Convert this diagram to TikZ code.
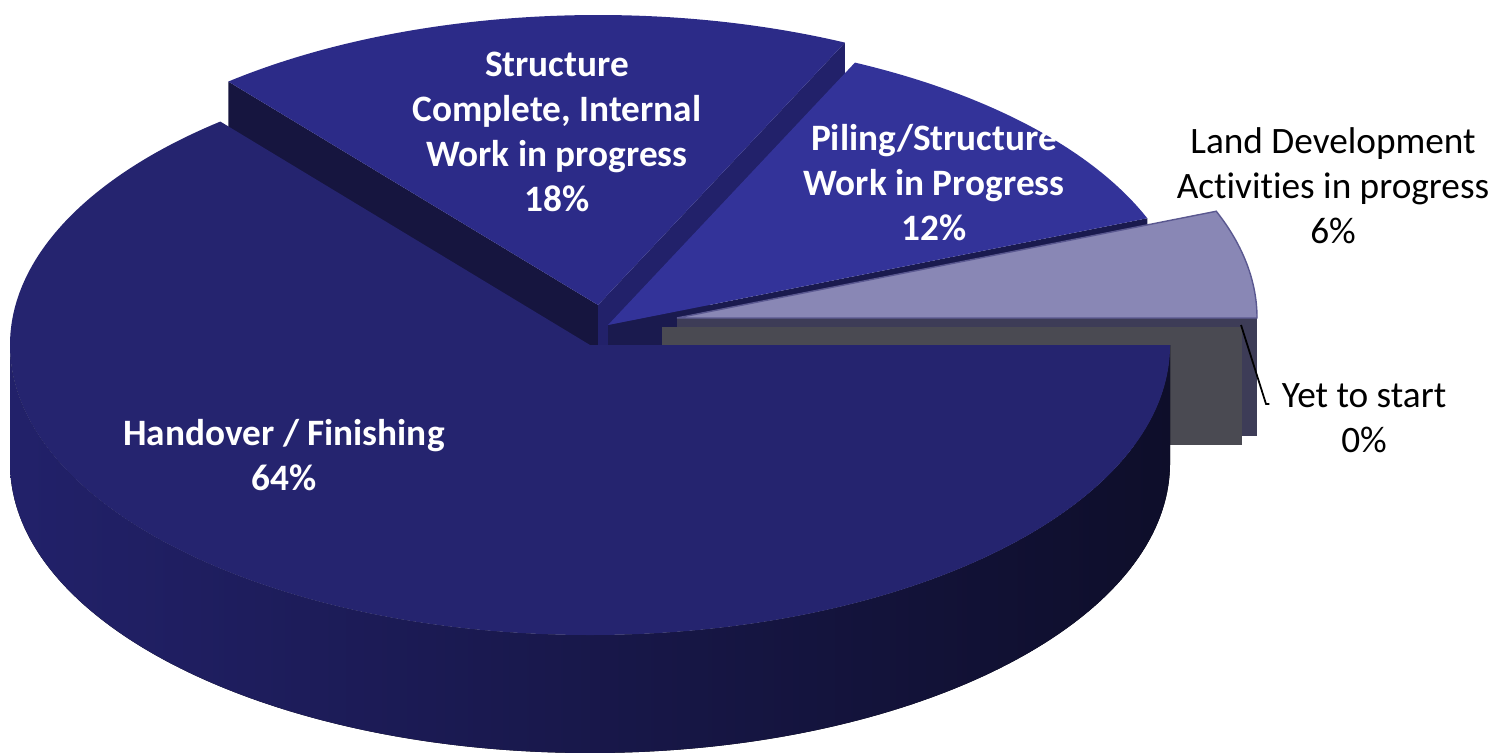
\documentclass[tikz,border=0pt]{standalone}
\usepackage{fontspec}
\setmainfont{Carlito}[Ligatures=NoCommon]
\usepackage{xcolor}
\usepackage{tikz}
\usetikzlibrary{positioning}

\definecolor{handTop}{HTML}{25246F}
\definecolor{handWallL}{HTML}{22216A}
\definecolor{handWallR}{HTML}{0E0E2A}
\definecolor{strucTop}{HTML}{2C2B88}
\definecolor{strucLeft}{HTML}{16153F}
\definecolor{strucRight}{HTML}{22216A}
\definecolor{pileTop}{HTML}{333399}
\definecolor{pileFace}{HTML}{1A1A4E}
\definecolor{landTop}{HTML}{8987B5}
\definecolor{landEdge}{HTML}{5A5890}
\definecolor{landFace}{HTML}{3D3C57}
\definecolor{yetFace}{HTML}{4A4A52}

\begin{document}
\begin{tikzpicture}[x=0.01cm,y=0.01cm,
    inlabel/.style={text=white,align=center,font=\bfseries\fontsize{10.6}{12.8}\selectfont},
    outlabel/.style={text=black,align=center,font=\fontsize{10.6}{12.8}\selectfont}]
  \useasboundingbox (0,0) rectangle (1495,-752);

  % Structure complete slice
  \begin{scope}[shift={(8,40)}]
    \fill[strucLeft] (590,-345) -- ++(129.6:580 and 290) -- ++(0,-118) -- (590,-463) -- cycle;
    \fill[strucRight] (590,-345) -- ++(64.8:580 and 290) -- ++(0,-118) -- (590,-463) -- cycle;
    \fill[strucTop] (590,-345) -- ++(64.8:580 and 290)
      arc[start angle=64.8,end angle=129.6,x radius=580,y radius=290] -- cycle;
  \end{scope}

  % Piling slice
  \begin{scope}[shift={(18,20)}]
    \fill[pileFace] (590,-345) -- ++(21.6:580 and 290) -- ++(0,-118) -- (590,-463) -- cycle;
    \fill[pileTop] (590,-345) -- ++(21.6:580 and 290)
      arc[start angle=21.6,end angle=64.8,x radius=580,y radius=290] -- cycle;
  \end{scope}

  % Land development slice
  \begin{scope}[shift={(87,27)}]
    \fill[landFace] (590,-345) rectangle (1170,-463);
    \path[fill=landTop,draw=landEdge,line width=0.4pt] (590,-345) -- (1170,-345)
      arc[start angle=0,end angle=21.6,x radius=580,y radius=290] -- cycle;
  \end{scope}

  % Yet to start slice
  \begin{scope}[shift={(72,18)}]
    \fill[yetFace] (590,-345) rectangle (1170,-463);
  \end{scope}

  % Handover slice
  \fill[left color=handWallL,right color=handWallR] (10,-345)
    arc[start angle=180,end angle=360,x radius=580,y radius=290] -- ++(0,-118)
    arc[start angle=0,end angle=-180,x radius=580,y radius=290] -- cycle;
  \fill[handTop] (590,-345) -- (1170,-345)
    arc[start angle=0,end angle=-230.4,x radius=580,y radius=290] -- cycle;

  \node[inlabel] (struc) at (557,-132) {Structure\\Complete, Internal\\Work in progress\\18\%};
  \node[inlabel] (pile) at (934,-183) {Piling/Structure\\Work in Progress\\12\%};
  \node[outlabel] (land) at (1333,-186) {Land Development\\Activities in progress\\6\%};
  \node[inlabel] (hand) at (284,-455) {Handover / Finishing\\64\%};
  \node[outlabel] (yet) at (1364,-418) {Yet to start\\0\%};

  \coordinate (yettip) at (1241,-325);
  \coordinate (yetbend) at (1266,-404);
  \draw[line width=0.5pt] (yettip) -- (yetbend) -- (yetbend -| yet.west);
\end{tikzpicture}
\end{document}
